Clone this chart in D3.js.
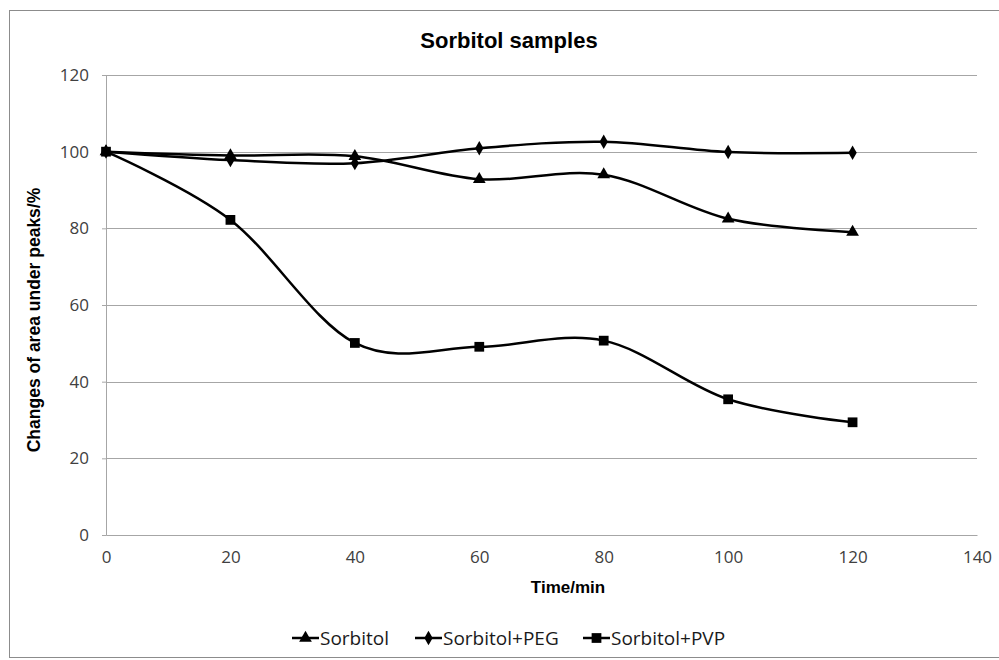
<!DOCTYPE html>
<html>
<head>
<meta charset="utf-8">
<script src="https://cdn.jsdelivr.net/npm/d3@7"></script>
<style>
  body { margin: 0; background: #fff; }
  text { font-family: "Open Sans", "Noto Sans", sans-serif; }
</style>
</head>
<body>
<div id="chart"></div>
<script>
// data
const times = [0, 20, 40, 60, 80, 100, 120];
const sorbitol = [100, 99.0, 98.8, 92.8, 94.0, 82.5, 79.0];
const sorbitolPEG = [100, 97.8, 97.0, 100.9, 102.6, 99.9, 99.7];
const sorbitolPVP = [100, 82.2, 50.1, 49.1, 50.7, 35.4, 29.4];
const seriesNames = ["Sorbitol", "Sorbitol+PEG", "Sorbitol+PVP"];
const seriesShapes = [d3.symbolTriangle, d3.symbolDiamond, d3.symbolSquare];
const xTicks = [0, 20, 40, 60, 80, 100, 120, 140];
const yTicks = [0, 20, 40, 60, 80, 100, 120];

const W = 999, H = 660;
const margin = { top: 75, right: 22, bottom: 125, left: 106 };
const width = W - margin.left - margin.right;
const height = H - margin.top - margin.bottom;

const svg = d3.select('#chart').append('svg')
    .attr('width', W)
    .attr('height', H);

// outer frame of the chart area
svg.append('rect')
    .attr('x', 9.5).attr('y', 10.5)
    .attr('width', W + 10).attr('height', 647)
    .attr('fill', 'none')
    .attr('stroke', '#8c8c8c')
    .attr('stroke-width', 1);

const g = svg.append('g')
    .attr('transform', `translate(${margin.left},${margin.top})`);

const x = d3.scaleLinear().domain([0, 140]).range([0, width]);
const y = d3.scaleLinear().domain([0, 120]).range([height, 0]);

// horizontal gridlines
g.append('g')
    .selectAll('line')
    .data(yTicks.filter(d => d > 0))
    .enter()
    .append('line')
    .attr('x1', 0).attr('x2', width)
    .attr('y1', d => Math.round(y(d)) + 0.5)
    .attr('y2', d => Math.round(y(d)) + 0.5)
    .attr('stroke', '#a6a6a6');

// y axis
const yAxis = g.append('g')
    .call(d3.axisLeft(y).tickValues(yTicks).tickSize(4).tickPadding(13));
yAxis.select('.domain').attr('stroke', '#a6a6a6');
yAxis.selectAll('.tick line').attr('stroke', '#a6a6a6');
yAxis.selectAll('text')
    .attr('font-size', 17)
    .attr('fill', '#404040')
    .style('font-family', '"Open Sans", sans-serif');

// x axis
const xAxis = g.append('g')
    .attr('transform', `translate(0,${height})`)
    .call(d3.axisBottom(x).tickValues(xTicks).tickSize(0).tickPadding(16));
xAxis.select('.domain').attr('stroke', '#a6a6a6');
xAxis.selectAll('text')
    .attr('font-size', 17)
    .attr('fill', '#404040')
    .style('font-family', '"Open Sans", sans-serif');

// title and axis labels
svg.append('text')
    .attr('x', 509).attr('y', 48)
    .attr('text-anchor', 'middle')
    .attr('font-size', 22)
    .attr('font-weight', 'bold')
    .attr('fill', '#000')
    .style('font-family', '"Liberation Sans Narrow", "Liberation Sans", sans-serif')
    .text('Sorbitol samples');

svg.append('text')
    .attr('x', 568).attr('y', 593)
    .attr('text-anchor', 'middle')
    .attr('font-size', 17)
    .attr('font-weight', 'bold')
    .style('font-family', '"Liberation Sans", Arial, sans-serif')
    .text('Time/min');

svg.append('text')
    .attr('transform', 'translate(40,320) rotate(-90)')
    .attr('text-anchor', 'middle')
    .attr('font-size', 17.5)
    .attr('font-weight', 'bold')
    .style('font-family', '"Liberation Sans", Arial, sans-serif')
    .text('Changes of area under peaks/%');

// series
const allSeries = [sorbitol, sorbitolPEG, sorbitolPVP];
const line = d3.line()
    .x(d => x(d[0]))
    .y(d => y(d[1]))
    .curve(d3.curveCardinal.tension(0));

const symSize = [70, 60, 95];

allSeries.forEach((vals, i) => {
    const pts = times.map((t, j) => [t, vals[j]]);
    g.append('path')
        .datum(pts)
        .attr('d', line)
        .attr('fill', 'none')
        .attr('stroke', '#000')
        .attr('stroke-width', 2.5);

    g.selectAll(`.mk-${i}`)
        .data(pts)
        .enter()
        .append('path')
        .attr('class', `mk-${i}`)
        .attr('transform', d => `translate(${x(d[0])},${y(d[1])})`)
        .attr('d', d3.symbol().type(seriesShapes[i]).size(symSize[i]))
        .attr('fill', '#000');
});

// legend
const legendX = [292, 415, 583];
const legend = svg.append('g');
seriesNames.forEach((name, i) => {
    const lg = legend.append('g').attr('transform', `translate(${legendX[i]},638)`);
    lg.append('line')
        .attr('x1', 0).attr('x2', 27)
        .attr('y1', 0).attr('y2', 0)
        .attr('stroke', '#000')
        .attr('stroke-width', 2.5);
    lg.append('path')
        .attr('transform', 'translate(13.5,0)')
        .attr('d', d3.symbol().type(seriesShapes[i]).size(symSize[i]))
        .attr('fill', '#000');
    lg.append('text')
        .attr('x', 28).attr('y', 7)
        .attr('font-size', 19)
        .attr('fill', '#1a1a1a')
        .style('font-family', '"Open Sans", sans-serif')
        .text(name);
});
</script>
</body>
</html>
